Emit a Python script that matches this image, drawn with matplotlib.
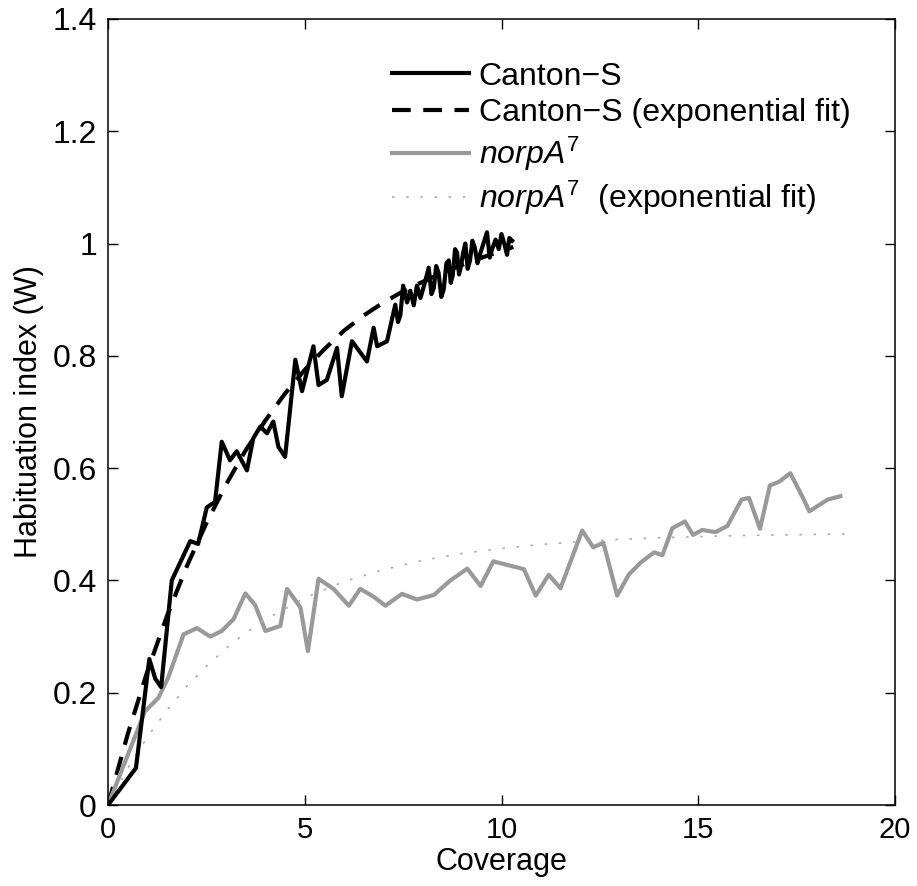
import matplotlib
matplotlib.use("Agg")
import matplotlib.pyplot as plt

plt.rcParams['font.family'] = ['Liberation Sans', 'DejaVu Sans']
plt.rcParams['mathtext.fontset'] = 'custom'
plt.rcParams['mathtext.rm'] = 'Liberation Sans'
plt.rcParams['mathtext.it'] = 'Liberation Sans:italic'

# Canton-S
cs_x = [0, 0.71, 1.05, 1.2, 1.35, 1.62, 2.09, 2.29, 2.51, 2.72, 2.89, 3.1, 3.27, 3.53, 3.69,
        3.87, 4.04, 4.2, 4.33, 4.5, 4.76, 4.93, 5.22, 5.35, 5.56, 5.82, 5.94, 6.2, 6.58, 6.75,
        6.84, 7.09, 7.3, 7.37, 7.43, 7.5, 7.6, 7.68, 7.77, 7.85, 7.94, 8.05, 8.15, 8.22, 8.28,
        8.34, 8.4, 8.47, 8.53, 8.6, 8.66, 8.71, 8.76, 8.82, 8.87, 8.92, 8.97, 9.03, 9.08, 9.14,
        9.2, 9.26, 9.32, 9.39, 9.45, 9.54, 9.63, 9.7, 9.76, 9.85, 9.93, 10.0, 10.07, 10.14, 10.2, 10.27]
cs_y = [0, 0.066, 0.26, 0.225, 0.21, 0.40, 0.47, 0.465, 0.53, 0.54, 0.647, 0.614, 0.63, 0.596, 0.653,
        0.674, 0.662, 0.683, 0.638, 0.62, 0.793, 0.737, 0.817, 0.748, 0.757, 0.814, 0.728, 0.826, 0.79, 0.85,
        0.817, 0.826, 0.891, 0.86, 0.873, 0.925, 0.895, 0.916, 0.89, 0.925, 0.903, 0.93, 0.957, 0.91, 0.921,
        0.96, 0.948, 0.905, 0.918, 0.965, 0.97, 0.93, 0.943, 0.99, 0.984, 0.945, 0.96, 0.985, 1.00, 0.955,
        0.97, 1.005, 0.993, 0.965, 0.98, 1.0, 1.02, 0.975, 0.99, 1.007, 0.99, 1.017, 1.0, 0.98, 1.01, 1.005]

# Canton-S fit curve
csfit_x = [0, 0.5, 1, 1.5, 2, 2.5, 3, 3.5, 4, 4.5, 5, 5.5, 6, 6.5, 7, 7.5, 8, 8.5, 9, 9.5, 10, 10.3]
csfit_y = [0, 0.126, 0.238, 0.337, 0.425, 0.502, 0.571, 0.632, 0.685, 0.733, 0.775, 0.812, 0.845,
           0.872, 0.895, 0.915, 0.932, 0.948, 0.962, 0.975, 0.987, 0.994]

# norpA7
np_x = [0, 0.94, 1.28, 1.53, 1.92, 2.26, 2.6, 2.89, 3.19, 3.49, 3.74, 4.0, 4.38, 4.55, 4.89,
        5.08, 5.35, 5.73, 6.12, 6.41, 6.75, 7.05, 7.47, 7.85, 8.28, 8.7, 9.13, 9.47, 9.79, 10.57,
        10.87, 11.2, 11.5, 12.05, 12.33, 12.59, 12.94, 13.24, 13.54, 13.88, 14.09, 14.34, 14.66, 14.87, 15.1,
        15.44, 15.74, 16.1, 16.29, 16.57, 16.82, 17.06, 17.34, 17.69, 17.82, 18.29, 18.61]
np_y = [0, 0.167, 0.191, 0.227, 0.304, 0.315, 0.30, 0.31, 0.331, 0.377, 0.356, 0.31, 0.319, 0.385, 0.352,
        0.274, 0.403, 0.385, 0.355, 0.385, 0.371, 0.355, 0.376, 0.366, 0.374, 0.40, 0.421, 0.39, 0.434, 0.42,
        0.373, 0.41, 0.386, 0.489, 0.459, 0.467, 0.373, 0.411, 0.432, 0.45, 0.445, 0.493, 0.505, 0.481, 0.49,
        0.486, 0.497, 0.544, 0.547, 0.492, 0.569, 0.576, 0.591, 0.543, 0.523, 0.544, 0.55]

# norpA7 fit curve
npfit_x = [0, 0.5, 1, 1.5, 2, 2.5, 3, 3.5, 4, 5, 6, 7, 8, 9, 10, 11, 12, 13, 14, 15, 16, 17, 18, 18.9]
npfit_y = [0, 0.065, 0.121, 0.169, 0.211, 0.247, 0.279, 0.307, 0.330, 0.369, 0.398, 0.419, 0.436,
           0.448, 0.457, 0.464, 0.469, 0.473, 0.476, 0.478, 0.480, 0.481, 0.482, 0.483]

xticks = [0, 5, 10, 15, 20]
yticks = [0, 0.2, 0.4, 0.6, 0.8, 1.0, 1.2, 1.4]
yticklabels = ['0', '0.2', '0.4', '0.6', '0.8', '1', '1.2', '1.4']

fig = plt.figure(figsize=(9.17, 8.86), dpi=100)
ax = fig.add_axes([0.1178, 0.0914, 0.8582, 0.8872])

ax.plot(cs_x, cs_y, color='black', lw=3, label='Canton\u2212S', zorder=3)
ax.plot(csfit_x, csfit_y, color='black', lw=3, linestyle=(0, (4.5, 3)),
        label='Canton\u2212S (exponential fit)', zorder=2)
ax.plot(np_x, np_y, color='#999999', lw=3, label=r'$norpA^7$')
ax.plot(npfit_x, npfit_y, color='#aaaaaa', lw=1.2, linestyle=(0, (1.5, 7)),
        label=r'$norpA^7$  (exponential fit)')

ax.set_xlim(0, 20)
ax.set_ylim(0, 1.4)
ax.set_xticks(xticks)
ax.set_yticks(yticks)
ax.set_yticklabels(yticklabels)
ax.tick_params(direction='in', length=7, width=1, top=True, right=True, pad=8)
ax.tick_params(axis='x', labelsize=21)
ax.tick_params(axis='y', labelsize=23)
for s in ax.spines.values():
    s.set_linewidth(1.1)

ax.set_xlabel('Coverage', fontsize=22, labelpad=2)
ax.set_ylabel('Habituation index (W)', fontsize=22, labelpad=6)

ax.legend(loc='upper left', bbox_to_anchor=(0.345, 0.962), frameon=False,
          fontsize=23, handlelength=2.4, handletextpad=0.3, labelspacing=0.2,
          borderaxespad=0)

fig.savefig('out.png', dpi=100)
